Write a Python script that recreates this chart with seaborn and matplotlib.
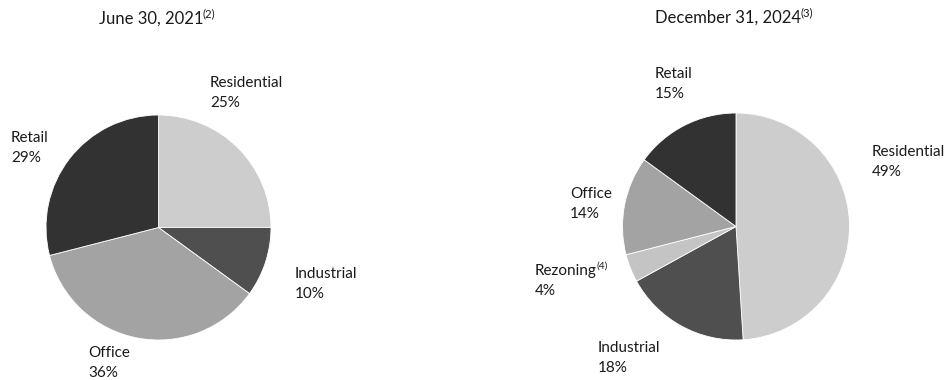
import matplotlib
matplotlib.use("Agg")
import matplotlib.pyplot as plt
import seaborn as sns

sns.set_theme(style="white")
plt.rcParams["font.family"] = ["Lato", "DejaVu Sans"]

# Portfolio mix by asset class
left_title = "June 30, 2021"
left_note = "(2)"
left_labels = ["Residential", "Industrial", "Office", "Retail"]
left_values = [25, 10, 36, 29]

right_title = "December 31, 2024"
right_note = "(3)"
right_labels = ["Residential", "Industrial", "Rezoning", "Office", "Retail"]
right_values = [49, 18, 4, 14, 15]
label_notes = {"Rezoning": "(4)"}

shade = {
    "Residential": "#cdcdcd",
    "Industrial": "#4f4f4f",
    "Rezoning": "#c4c4c4",
    "Office": "#a3a3a3",
    "Retail": "#323232",
}

W, H = 947, 380
fig = plt.figure(figsize=(W / 100, H / 100), dpi=100)
ax = fig.add_axes([0, 0, 1, 1])

INK = "#1a1a1a"
LABEL_SIZE = 11
TITLE_SIZE = 12


def fy(y):
    # canvas rows counted from the top
    return H - y


def with_note(x, y, text, note, size):
    t = ax.text(x, y, text, fontsize=size, color=INK, va="center", ha="left")
    if note:
        ax.annotate(note, xy=(1, 0.5), xycoords=t, xytext=(-0.6, 0),
                    textcoords="offset points", fontsize=size * 0.68,
                    color=INK, va="bottom", ha="left")
    return t


def draw_pie(labels, values, center, radius, label_pos, title, note, title_pos):
    ax.pie(values, colors=[shade[l] for l in labels], startangle=90,
           counterclock=False, center=center, radius=radius,
           wedgeprops=dict(edgecolor="white", linewidth=0.6))
    for lab, val in zip(labels, values):
        x, y = label_pos[lab]
        with_note(x, y, lab, label_notes.get(lab), LABEL_SIZE)
        ax.text(x, y - 20, f"{val}%", fontsize=LABEL_SIZE, color=INK,
                va="center", ha="left")
    with_note(title_pos[0], title_pos[1], title, note, TITLE_SIZE)


draw_pie(
    left_labels, left_values, (158.5, fy(227.5)), 112.5,
    {"Residential": (210, fy(83)), "Industrial": (295, fy(274)),
     "Office": (88, fy(353)), "Retail": (11, fy(138))},
    left_title, left_note, (99, fy(19)),
)
draw_pie(
    right_labels, right_values, (736, fy(226.5)), 113.5,
    {"Residential": (872, fy(152)), "Industrial": (598, fy(348)),
     "Rezoning": (535, fy(271)), "Office": (570, fy(194)),
     "Retail": (655, fy(74))},
    right_title, right_note, (655, fy(18)),
)

ax.set_xlim(0, W)
ax.set_ylim(0, H)
ax.set_aspect("equal")
ax.axis("off")

fig.savefig("out.png", dpi=100, facecolor="white")
